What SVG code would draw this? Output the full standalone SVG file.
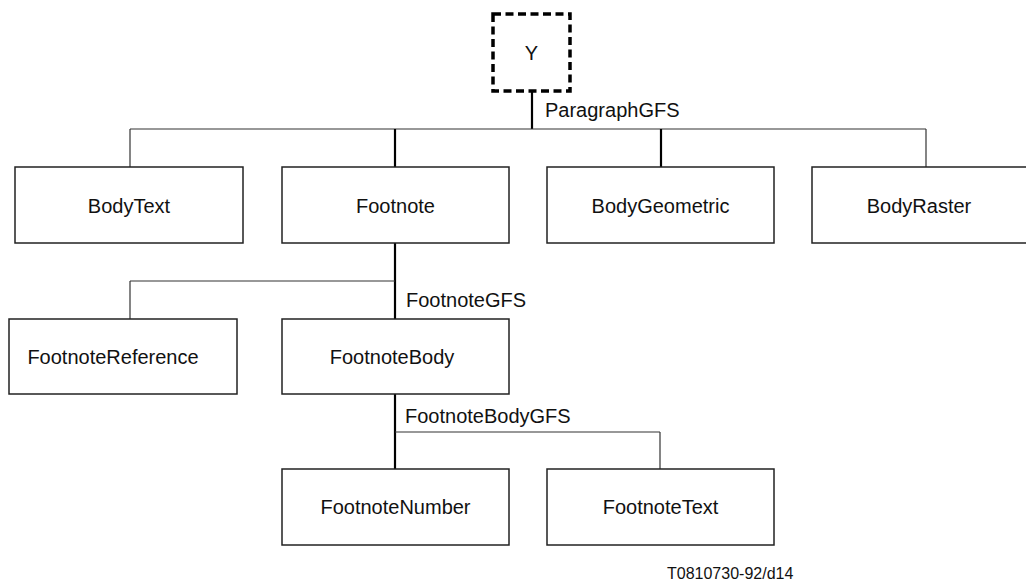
<svg xmlns="http://www.w3.org/2000/svg" width="1026" height="582" viewBox="0 0 1026 582">
<style>
.box{fill:#fff;stroke:#222;stroke-width:1.5}
.ybox{fill:#fff;stroke:#000;stroke-width:3.5;stroke-dasharray:8 4.5}
.t{font-family:"Liberation Sans",Arial,sans-serif;font-size:20px;fill:#111;text-anchor:middle}
.lbl{font-family:"Liberation Sans",Arial,sans-serif;font-size:20px;fill:#111}
.thin{stroke:#333;stroke-width:1.2;fill:none}
.thick{stroke:#000;stroke-width:2.2;fill:none}
</style>
<rect width="1026" height="582" fill="#fff"/>
<g id="connectors">
<line class="thick" x1="532" y1="91" x2="532" y2="129"/>
<line class="thin" x1="130" y1="129" x2="926" y2="129"/>
<line class="thin" x1="130" y1="129" x2="130" y2="167"/>
<line class="thick" x1="395" y1="129" x2="395" y2="167"/>
<line class="thick" x1="661" y1="129" x2="661" y2="167"/>
<line class="thin" x1="926" y1="129" x2="926" y2="167"/>
<line class="thick" x1="395" y1="243" x2="395" y2="319"/>
<line class="thin" x1="130" y1="281" x2="395" y2="281"/>
<line class="thin" x1="130" y1="281" x2="130" y2="319"/>
<line class="thick" x1="395" y1="394" x2="395" y2="469"/>
<line class="thin" x1="395" y1="432" x2="660" y2="432"/>
<line class="thin" x1="660" y1="432" x2="660" y2="469"/>
</g>
<g id="node-Y"><rect class="ybox" x="493" y="14" width="77" height="77"/><text class="t" x="531.5" y="60">Y</text></g>
<g id="node-BodyText"><rect class="box" x="15" y="167" width="228" height="76"/><text class="t" x="129" y="213">BodyText</text></g>
<g id="node-Footnote"><rect class="box" x="282" y="167" width="227" height="76"/><text class="t" x="395.5" y="213">Footnote</text></g>
<g id="node-BodyGeometric"><rect class="box" x="547" y="167" width="227" height="76"/><text class="t" x="660.5" y="213">BodyGeometric</text></g>
<g id="node-BodyRaster"><rect class="box" x="812" y="167" width="227" height="76"/><text class="t" x="919" y="213">BodyRaster</text></g>
<g id="node-FootnoteReference"><rect class="box" x="9" y="319" width="228" height="75"/><text class="t" x="113" y="364">FootnoteReference</text></g>
<g id="node-FootnoteBody"><rect class="box" x="282" y="319" width="227" height="75"/><text class="t" x="392" y="364">FootnoteBody</text></g>
<g id="node-FootnoteNumber"><rect class="box" x="282" y="469" width="227" height="76"/><text class="t" x="395.5" y="514">FootnoteNumber</text></g>
<g id="node-FootnoteText"><rect class="box" x="547" y="469" width="227" height="76"/><text class="t" x="660.5" y="514">FootnoteText</text></g>
<g id="labels">
<text class="lbl" x="545" y="117">ParagraphGFS</text>
<text class="lbl" x="406" y="307">FootnoteGFS</text>
<text class="lbl" x="405" y="423">FootnoteBodyGFS</text>
<text class="lbl" x="667" y="579" style="font-size:16px">T0810730-92/d14</text>
</g>
</svg>
